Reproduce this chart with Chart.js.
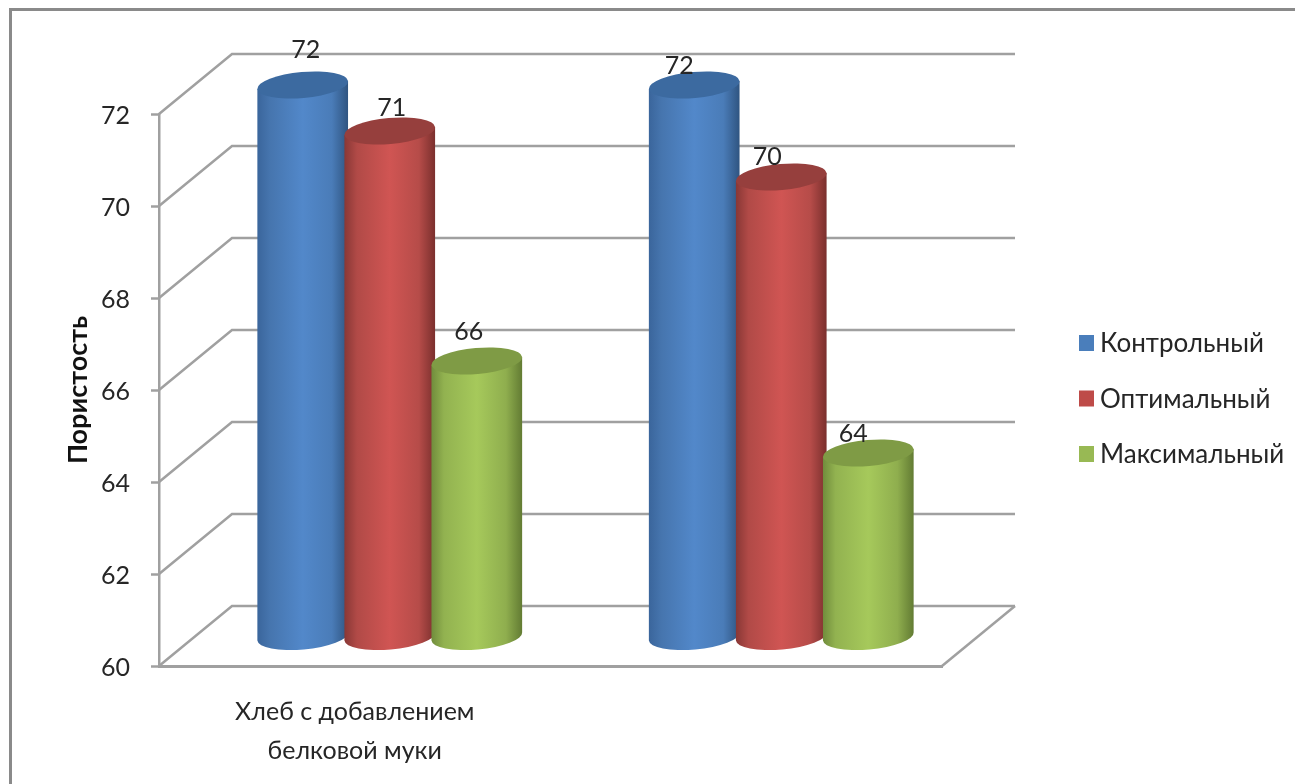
<!DOCTYPE html>
<html lang="ru">
<head>
<meta charset="UTF-8">
<title>Пористость</title>
<style>
html, body { margin: 0; padding: 0; background: #fff; overflow: hidden; }
canvas { display: block; }
</style>
<script src="https://cdn.jsdelivr.net/npm/chart.js"></script>
</head>
<body>
<canvas id="chart" width="1295" height="784"></canvas>
<script>
const categories = [['Хлеб с добавлением', 'белковой муки'], ''];
const seriesNames = ['Контрольный', 'Оптимальный', 'Максимальный'];
const kontrol = [72, 72];
const optimal = [71, 70];
const maksimal = [66, 64];
const yTicks = [60, 62, 64, 66, 68, 70, 72];

const FONT = 'Lato, sans-serif';
const GRID = '#a0a0a0';
const TEXT = '#262626';

// side wall depth of the fake 3D box
const DEPTH_X = 73, DEPTH_Y = -60;
// the cylinders stand in the middle of the floor
const BAR_X = 35, BAR_Y = -29;

const shades = [
  { swatch: '#4a7ebb', top: '#3c6aa0', stops: ['#3a659b', '#4675ae', '#5288ca', '#4a7cb8', '#2f5480'] },
  { swatch: '#be4b48', top: '#963f3d', stops: ['#883735', '#b14a47', '#d05553', '#b64c49', '#7a2f2d'] },
  { swatch: '#98b954', top: '#7f9b45', stops: ['#708c3c', '#92b250', '#a6c95b', '#8fae4e', '#627b33'] }
];

// [dx, dy] of each value label from the top of its cylinder
const labelShift = [
  [[3, -35], [-15, -19]],
  [[2, -23], [-14, -20]],
  [[-8, -29], [-15, -19]]
];

const box3d = {
  id: 'box3d',
  beforeDraw(chart) {
    const ctx = chart.ctx;
    ctx.save();
    ctx.strokeStyle = '#8a8a8a';
    ctx.lineWidth = 3;
    ctx.strokeRect(10.5, 9.5, 1400, 900);
    ctx.restore();
  },
  beforeDatasetsDraw(chart) {
    const { ctx, chartArea: a, scales: { y } } = chart;
    ctx.save();
    ctx.strokeStyle = GRID;
    ctx.lineWidth = 2.5;
    yTicks.forEach(v => {
      const py = y.getPixelForValue(v);
      ctx.beginPath();
      ctx.moveTo(a.left, py);
      ctx.lineTo(a.left + DEPTH_X, py + DEPTH_Y);
      ctx.lineTo(a.right + DEPTH_X, py + DEPTH_Y);
      ctx.stroke();
    });
    // right edge of the floor
    ctx.beginPath();
    ctx.moveTo(a.right, a.bottom);
    ctx.lineTo(a.right + DEPTH_X, a.bottom + DEPTH_Y);
    ctx.stroke();
    ctx.restore();
  }
};

function drawCylinder(ctx, bar, shade) {
  const rx = bar.width / 2 + 2;
  const ry = 13;
  const tilt = -0.09;
  const cx = bar.x + BAR_X;
  const top = bar.y + BAR_Y;
  const bottom = bar.base + BAR_Y;
  const ex = rx * Math.cos(tilt), ey = rx * Math.sin(tilt);

  const g = ctx.createLinearGradient(cx - rx, 0, cx + rx, 0);
  [0, 0.14, 0.5, 0.82, 1].forEach((p, i) => g.addColorStop(p, shade.stops[i]));

  ctx.beginPath();
  ctx.moveTo(cx + ex, top + ey);
  ctx.lineTo(cx + ex, bottom + ey);
  ctx.ellipse(cx, bottom, rx, ry, tilt, 0, Math.PI);
  ctx.lineTo(cx - ex, top - ey);
  ctx.closePath();
  ctx.fillStyle = g;
  ctx.fill();

  ctx.beginPath();
  ctx.ellipse(cx, top, rx, ry, tilt, 0, Math.PI * 2);
  ctx.fillStyle = shade.top;
  ctx.fill();
}

const cylinders = {
  id: 'cylinders',
  afterDatasetsDraw(chart) {
    const ctx = chart.ctx;
    ctx.save();
    chart.data.datasets.forEach((ds, i) => {
      chart.getDatasetMeta(i).data.forEach(bar => drawCylinder(ctx, bar, shades[i]));
    });
    // value labels
    ctx.fillStyle = TEXT;
    ctx.font = '25px ' + FONT;
    ctx.textAlign = 'center';
    ctx.textBaseline = 'middle';
    chart.data.datasets.forEach((ds, i) => {
      chart.getDatasetMeta(i).data.forEach((bar, j) => {
        const [dx, dy] = labelShift[i][j];
        ctx.fillText(ds.data[j], bar.x + BAR_X + dx, bar.y + BAR_Y + dy);
      });
    });
    ctx.restore();
  }
};

const sideLegend = {
  id: 'sideLegend',
  afterDraw(chart) {
    const ctx = chart.ctx;
    ctx.save();
    ctx.font = '26px ' + FONT;
    ctx.textBaseline = 'middle';
    seriesNames.forEach((name, i) => {
      const y = 343 + i * 55.5;
      ctx.fillStyle = shades[i].swatch;
      ctx.fillRect(1079, y - 8, 15, 16);
      ctx.fillStyle = TEXT;
      ctx.fillText(name, 1100, y + 1);
    });
    ctx.restore();
  }
};

Chart.defaults.font.family = FONT;

new Chart(document.getElementById('chart'), {
  type: 'bar',
  data: {
    labels: categories,
    datasets: [
      { label: seriesNames[0], data: kontrol, backgroundColor: 'transparent' },
      { label: seriesNames[1], data: optimal, backgroundColor: 'transparent' },
      { label: seriesNames[2], data: maksimal, backgroundColor: 'transparent' }
    ]
  },
  options: {
    responsive: false,
    animation: false,
    layout: { padding: { left: 0, top: 114, right: 353, bottom: 0 } },
    datasets: { bar: { categoryPercentage: 0.667, barPercentage: 1, base: 60 } },
    plugins: { legend: { display: false }, tooltip: { enabled: false } },
    scales: {
      x: {
        afterFit(scale) { scale.height = 118; },
        grid: { display: true, drawOnChartArea: false, drawTicks: false },
        border: { color: GRID, width: 3 },
        ticks: {
          color: TEXT,
          padding: 26,
          maxRotation: 0,
          font: { size: 25, lineHeight: 1.56 }
        }
      },
      y: {
        min: 60,
        max: 72,
        afterFit(scale) { scale.width = 159; },
        afterBuildTicks(scale) { scale.ticks = yTicks.map(v => ({ value: v })); },
        grid: { drawOnChartArea: false, tickLength: 8, tickColor: GRID, tickWidth: 2.5 },
        border: { color: GRID, width: 2.5 },
        ticks: { color: TEXT, padding: 21, labelOffset: 2, font: { size: 25 } },
        title: {
          display: true,
          text: 'Пористость',
          color: '#111',
          font: { size: 27, weight: 'bold' },
          padding: { top: 62, bottom: 0 }
        }
      }
    }
  },
  plugins: [box3d, cylinders, sideLegend]
});
</script>
</body>
</html>
